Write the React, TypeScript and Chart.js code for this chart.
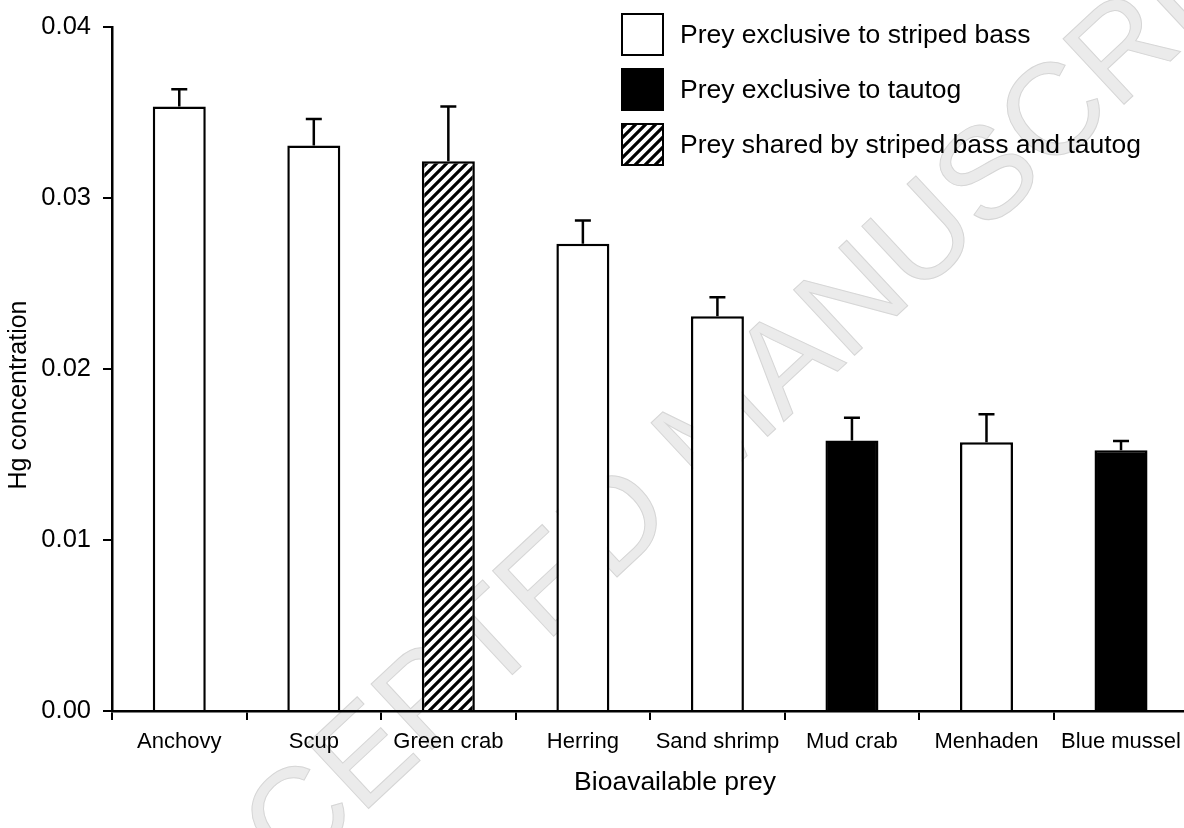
import React, { useEffect, useRef } from "react";
import { Chart, registerables } from "chart.js";

Chart.register(...registerables);

const categories = ["Anchovy", "Scup", "Green crab", "Herring", "Sand shrimp", "Mud crab", "Menhaden", "Blue mussel"];
const hgValues = [0.03536, 0.03308, 0.03217, 0.02733, 0.0231, 0.01582, 0.01572, 0.01525];
const hgErrors = [0.00101, 0.00155, 0.00319, 0.00137, 0.0011, 0.00133, 0.00164, 0.00055];
// 0 = striped bass only, 1 = tautog only, 2 = shared
const preyGroup = [0, 0, 2, 0, 0, 1, 0, 1];
const groupLabels = [
  "Prey exclusive to striped bass",
  "Prey exclusive to tautog",
  "Prey shared by striped bass and tautog",
];
const yTicks = [0, 0.01, 0.02, 0.03, 0.04];
const xTitle = "Bioavailable prey";
const yTitle = "Hg concentration";
const watermark = "ACCEPTED MANUSCRIPT";

const FONT = "'Liberation Sans', Arial, Helvetica, sans-serif";

function makeHatch(ctx: CanvasRenderingContext2D): CanvasPattern | string {
  const c = document.createElement("canvas");
  c.width = 10;
  c.height = 10;
  const g = c.getContext("2d");
  if (!g) return "#888";
  g.fillStyle = "#fff";
  g.fillRect(0, 0, 10, 10);
  g.strokeStyle = "#000";
  g.lineWidth = 3.2;
  g.beginPath();
  g.moveTo(-5, 5);
  g.lineTo(5, -5);
  g.moveTo(-1, 11);
  g.lineTo(11, -1);
  g.moveTo(5, 15);
  g.lineTo(15, 5);
  g.stroke();
  return ctx.createPattern(c, "repeat") || "#888";
}

export default function App() {
  const ref = useRef<HTMLCanvasElement | null>(null);

  useEffect(() => {
    const canvas = ref.current;
    if (!canvas) return;
    const ctx = canvas.getContext("2d");
    if (!ctx) return;
    const hatch = makeHatch(ctx);
    const fills: (string | CanvasPattern)[] = ["#ffffff", "#000000", hatch];

    const watermarkPlugin = {
      id: "watermark",
      beforeDraw(chart: any) {
        const c = chart.ctx;
        c.save();
        c.translate(722, 430);
        c.rotate((-43 * Math.PI) / 180);
        c.font = `130px ${FONT}`;
        c.textAlign = "center";
        c.textBaseline = "middle";
        c.fillStyle = "#ebebeb";
        c.fillText(watermark, 0, 0);
        c.strokeStyle = "#d6d6d6";
        c.lineWidth = 1;
        c.strokeText(watermark, 0, 0);
        c.restore();
      },
    };

    const titlePlugin = {
      id: "axisTitles",
      afterDraw(chart: any) {
        const c = chart.ctx;
        c.save();
        c.fillStyle = "#000";
        c.textAlign = "center";
        c.textBaseline = "middle";
        c.font = `26.5px ${FONT}`;
        c.fillText(xTitle, 675, 783);
        c.translate(19, 395);
        c.rotate(-Math.PI / 2);
        c.font = `25px ${FONT}`;
        c.fillText(yTitle, 0, 0);
        c.restore();
      },
    };

    const errorPlugin = {
      id: "errorBars",
      afterDatasetsDraw(chart: any) {
        const c = chart.ctx;
        const ys = chart.scales.y;
        c.save();
        c.strokeStyle = "#000";
        c.lineWidth = 2.5;
        hgValues.forEach((v, i) => {
          const meta = chart.getDatasetMeta(preyGroup[i]);
          const bar = meta.data[i];
          if (!bar) return;
          const x = bar.x;
          const y0 = ys.getPixelForValue(v);
          const y1 = ys.getPixelForValue(v + hgErrors[i]);
          c.beginPath();
          c.moveTo(x, y0);
          c.lineTo(x, y1);
          c.moveTo(x - 8, y1);
          c.lineTo(x + 8, y1);
          c.stroke();
        });
        c.restore();
      },
    };

    const legendPlugin = {
      id: "boxLegend",
      afterDraw(chart: any) {
        const c = chart.ctx;
        c.save();
        c.font = `26.5px ${FONT}`;
        c.textAlign = "left";
        c.textBaseline = "middle";
        groupLabels.forEach((label, k) => {
          const bx = 621;
          const by = 13 + k * 55;
          const size = 43;
          c.fillStyle = fills[k] as any;
          c.fillRect(bx, by, size, size);
          c.strokeStyle = "#000";
          c.lineWidth = 2;
          c.strokeRect(bx + 1, by + 1, size - 2, size - 2);
          c.fillStyle = "#000";
          c.fillText(label, 680, by + size / 2 + 1);
        });
        c.restore();
      },
    };

    const chart = new Chart(canvas, {
      type: "bar",
      data: {
        labels: categories,
        datasets: groupLabels.map((label, k) => ({
          label,
          data: hgValues.map((v, i) => (preyGroup[i] === k ? v : null)),
          backgroundColor: fills[k] as any,
          borderColor: "#000",
          borderWidth: 2.5,
          barPercentage: 0.394,
          categoryPercentage: 1,
          grouped: false,
          skipNull: true,
        })),
      },
      options: {
        animation: false,
        responsive: false,
        devicePixelRatio: 1,
        layout: { padding: { left: 0, top: 22, right: 1, bottom: 0 } },
        plugins: {
          legend: { display: false },
          tooltip: { enabled: false },
        },
        scales: {
          x: {
            type: "category",
            offset: true,
            grid: {
              offset: true,
              drawOnChartArea: false,
              drawTicks: true,
              tickLength: 9,
              color: "#000",
              lineWidth: 2,
            },
            border: { display: true, color: "#000", width: 2.5 },
            ticks: {
              color: "#000",
              font: { family: FONT, size: 22 },
              padding: 9,
              maxRotation: 0,
              autoSkip: false,
            },
            title: { display: false },
            afterFit: (s: any) => {
              s.height = 117;
            },
          },
          y: {
            min: 0,
            max: 0.04,
            afterBuildTicks: (s: any) => {
              s.ticks = yTicks.map((v) => ({ value: v }));
            },
            grid: {
              drawOnChartArea: false,
              drawTicks: true,
              tickLength: 9,
              color: "#000",
              lineWidth: 2,
            },
            border: { display: true, color: "#000", width: 2.5 },
            ticks: {
              color: "#000",
              font: { family: FONT, size: 25.5 },
              padding: 12,
              callback: (v: any) => Number(v).toFixed(2),
            },
            title: { display: false },
            afterFit: (s: any) => {
              s.width = 112;
            },
          },
        },
      } as any,
      plugins: [watermarkPlugin, errorPlugin, legendPlugin, titlePlugin],
    });

    return () => chart.destroy();
  }, []);

  return (
    <div
      style={{
        position: "absolute",
        left: 0,
        top: 0,
        width: 1184,
        height: 828,
        overflow: "hidden",
        background: "#fff",
      }}
    >
      <canvas ref={ref} width={1190} height={828} style={{ display: "block", width: 1190, height: 828 }} />
    </div>
  );
}
